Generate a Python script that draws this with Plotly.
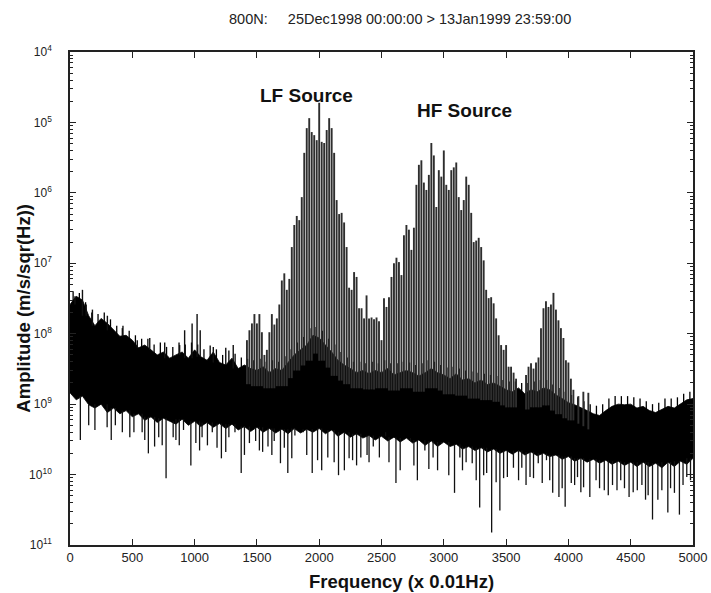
import math
import plotly.graph_objects as go

# ---------------- data ----------------
band_freq = [0, 50, 100, 150, 200, 250, 300, 350, 400, 450, 500, 550, 600, 650, 700, 750, 800, 850, 900, 950,
             1000, 1050, 1100, 1150, 1200, 1250, 1300, 1350, 1400, 1450, 1500, 1550, 1600, 1650, 1700, 1750,
             1800, 1850, 1900, 1950, 2000, 2050, 2100, 2150, 2200, 2250, 2300, 2350, 2400, 2450, 2500, 2550,
             2600, 2650, 2700, 2750, 2800, 2850, 2900, 2950, 3000, 3050, 3100, 3150, 3200, 3250, 3300, 3350,
             3400, 3450, 3500, 3550, 3600, 3650, 3700, 3750, 3800, 3850, 3900, 3950, 4000, 4050, 4100, 4150,
             4200, 4250, 4300, 4350, 4400, 4450, 4500, 4550, 4600, 4650, 4700, 4750, 4800, 4850, 4900, 4950, 5000]

band_top = [2.6e-8, 3.4e-8, 3.0e-8, 1.8e-8, 1.3e-8, 1.65e-8, 1.4e-8, 1.12e-8, 9.2e-9, 9.5e-9, 8.1e-9, 6.3e-9,
            6.9e-9, 5.9e-9, 5.0e-9, 5.5e-9, 4.5e-9, 5.0e-9, 5.5e-9, 4.5e-9, 5.9e-9, 4.7e-9, 4.2e-9, 5.5e-9,
            3.9e-9, 3.6e-9, 4.5e-9, 3.2e-9, 3.6e-9, 3.2e-9, 3.0e-9, 3.4e-9, 2.8e-9, 3.2e-9, 3.0e-9, 3.9e-9,
            5.0e-9, 5.9e-9, 6.9e-9, 9.5e-9, 8.7e-9, 6.9e-9, 5.5e-9, 4.2e-9, 3.6e-9, 3.2e-9, 2.8e-9, 3.0e-9,
            2.7e-9, 3.0e-9, 2.8e-9, 3.2e-9, 2.6e-9, 2.8e-9, 3.0e-9, 2.8e-9, 2.5e-9, 2.8e-9, 3.2e-9, 2.8e-9,
            2.6e-9, 2.3e-9, 2.7e-9, 2.2e-9, 2.3e-9, 2.0e-9, 2.2e-9, 1.9e-9, 2.0e-9, 1.8e-9, 1.6e-9, 1.5e-9,
            1.7e-9, 1.4e-9, 1.6e-9, 1.5e-9, 1.7e-9, 1.6e-9, 1.35e-9, 1.2e-9, 1.05e-9, 9.8e-10, 8.8e-10, 8.1e-10,
            7.3e-10, 6.9e-10, 8.1e-10, 9.3e-10, 1.0e-9, 9.8e-10, 1.0e-9, 8.8e-10, 9.3e-10, 8.1e-10, 7.6e-10,
            8.4e-10, 9.3e-10, 8.8e-10, 1.0e-9, 1.15e-9, 1.2e-9]

band_bottom = [1.45e-9, 1.15e-9, 1.3e-9, 9.8e-10, 8.8e-10, 1.0e-9, 7.6e-10, 8.8e-10, 7.3e-10, 8.1e-10, 6.6e-10,
               7.3e-10, 5.9e-10, 6.6e-10, 5.5e-10, 6.3e-10, 5.7e-10, 5.2e-10, 6.1e-10, 5.0e-10, 5.7e-10, 4.8e-10,
               5.5e-10, 4.7e-10, 5.3e-10, 4.5e-10, 5.2e-10, 4.3e-10, 4.8e-10, 4.1e-10, 4.7e-10, 4.0e-10, 4.5e-10,
               3.9e-10, 4.4e-10, 3.8e-10, 4.5e-10, 3.9e-10, 4.4e-10, 4.0e-10, 4.5e-10, 3.8e-10, 4.3e-10, 3.5e-10,
               4.0e-10, 3.4e-10, 3.8e-10, 3.3e-10, 3.6e-10, 3.1e-10, 3.5e-10, 3.0e-10, 3.4e-10, 2.9e-10, 3.3e-10,
               2.8e-10, 3.1e-10, 2.6e-10, 3.0e-10, 2.5e-10, 2.9e-10, 2.5e-10, 2.7e-10, 2.3e-10, 2.5e-10, 2.2e-10,
               2.4e-10, 2.1e-10, 2.3e-10, 2.0e-10, 2.2e-10, 1.95e-10, 2.2e-10, 1.9e-10, 2.1e-10, 1.85e-10, 2.0e-10,
               1.8e-10, 1.9e-10, 1.65e-10, 1.8e-10, 1.55e-10, 1.7e-10, 1.5e-10, 1.65e-10, 1.45e-10, 1.6e-10,
               1.4e-10, 1.55e-10, 1.35e-10, 1.5e-10, 1.3e-10, 1.5e-10, 1.3e-10, 1.45e-10, 1.25e-10, 1.5e-10,
               1.3e-10, 1.55e-10, 1.4e-10, 1.7e-10]

fuzz_freq = [25, 75, 125, 175, 225, 275, 325, 375, 425, 475, 525, 575, 625, 675, 725, 775, 825, 875, 925, 975,
             1025, 1075, 1125, 1175, 1225, 1275, 1325, 1375, 1425, 1475, 1525, 1575, 1625, 1675, 1725, 1775,
             1825, 1875, 1925, 1975, 2025, 2075, 2125, 2175, 2225, 2275, 2325, 2375, 2425, 2475, 2525, 2575,
             2625, 2675, 2725, 2775, 2825, 2875, 2925, 2975, 3025, 3075, 3125, 3175, 3225, 3275, 3325, 3375,
             3425, 3475, 3525, 3575, 3625, 3675, 3725, 3775, 3825, 3875, 3925, 3975, 4025, 4075, 4125, 4175,
             4225, 4275, 4325, 4375, 4425, 4475, 4525, 4575, 4625, 4675, 4725, 4775, 4825, 4875, 4925, 4975]
fuzz_peak = [4.0e-8, 3.8e-8, 2.8e-8, 2.0e-8, 1.9e-8, 2.0e-8, 1.6e-8, 1.3e-8, 1.3e-8, 1.1e-8, 9.5e-9, 8.5e-9,
             8.5e-9, 7.0e-9, 7.5e-9, 6.5e-9, 6.5e-9, 7.5e-9, 7.0e-9, 7.5e-9, 7.0e-9, 6.0e-9, 6.8e-9, 6.0e-9,
             5.0e-9, 5.8e-9, 5.2e-9, 4.6e-9, 4.4e-9, 4.2e-9, 4.4e-9, 4.0e-9, 4.2e-9, 4.0e-9, 4.8e-9, 6.0e-9,
             7.5e-9, 9.0e-9, 1.2e-8, 1.25e-8, 1.1e-8, 8.5e-9, 7.0e-9, 5.5e-9, 4.6e-9, 4.0e-9, 4.0e-9, 3.8e-9,
             4.0e-9, 3.8e-9, 4.2e-9, 3.8e-9, 3.8e-9, 4.0e-9, 3.9e-9, 3.6e-9, 3.8e-9, 4.2e-9, 4.0e-9, 3.6e-9,
             3.3e-9, 3.4e-9, 3.2e-9, 3.0e-9, 2.9e-9, 2.8e-9, 2.7e-9, 2.6e-9, 2.5e-9, 2.2e-9, 2.1e-9, 2.1e-9,
             2.0e-9, 2.0e-9, 2.1e-9, 2.2e-9, 2.2e-9, 1.9e-9, 1.7e-9, 1.5e-9, 1.35e-9, 1.25e-9, 1.1e-9, 1.0e-9,
             9.5e-10, 1.0e-9, 1.2e-9, 1.3e-9, 1.3e-9, 1.3e-9, 1.25e-9, 1.2e-9, 1.1e-9, 1.0e-9, 1.05e-9, 1.2e-9,
             1.2e-9, 1.25e-9, 1.4e-9, 1.5e-9]

harm_freq = [1420, 1440, 1460, 1480, 1500, 1520, 1540, 1560, 1580, 1600, 1620, 1640, 1660, 1680, 1700, 1720,
             1740, 1760, 1780, 1800, 1820, 1840, 1860, 1880, 1900, 1920, 1940, 1960, 1980, 2000, 2020, 2040,
             2060, 2080, 2100, 2120, 2140, 2160, 2180, 2200, 2220, 2240, 2260, 2280, 2300, 2320, 2340, 2360,
             2380, 2400, 2420, 2440, 2460, 2480, 2500, 2520, 2540, 2560, 2580, 2600, 2620, 2640, 2660, 2680,
             2700, 2720, 2740, 2760, 2780, 2800, 2820, 2840, 2860, 2880, 2900, 2920, 2940, 2960, 2980, 3000,
             3020, 3040, 3060, 3080, 3100, 3120, 3140, 3160, 3180, 3200, 3220, 3240, 3260, 3280, 3300, 3320,
             3340, 3360, 3380, 3400, 3420, 3440, 3460, 3480, 3500, 3520, 3540, 3560, 3580,
             3660, 3680, 3700, 3720, 3740, 3760, 3780, 3800, 3820, 3840, 3860, 3880, 3900, 3920, 3940, 3960,
             3980, 4000, 4020, 4040, 4080, 4120, 4160]

harm_peak = [8.1e-9, 1.12e-8, 1.4e-8, 1.9e-8, 1.4e-8, 1.9e-8, 1.05e-8, 5.0e-9, 5.9e-9, 1.05e-8, 1.9e-8, 1.35e-8,
             1.65e-8, 2.6e-8, 5.7e-8, 7.2e-8, 4.2e-8, 6.0e-8, 1.7e-7, 3.5e-7, 4.7e-7, 4.1e-7, 8.7e-7, 3.7e-6,
             8.3e-6, 1.15e-5, 7.3e-6, 6.6e-6, 5.6e-6, 1.9e-5, 5.3e-6, 5.1e-6, 7.8e-6, 1.15e-5, 8.3e-6, 3.7e-6,
             7.9e-7, 5.0e-7, 5.2e-7, 3.8e-7, 1.7e-7, 4.5e-8, 4.2e-8, 7.5e-8, 6.4e-8, 2.3e-8, 2.3e-8, 1.65e-8,
             3.5e-8, 1.65e-8, 1.7e-8, 1.6e-8, 1.7e-8, 1.5e-8, 8.1e-9, 3.2e-8, 2.4e-8, 3.3e-8, 6.4e-8, 1.0e-7,
             1.2e-7, 1.04e-7, 6.8e-8, 2.5e-7, 3.5e-7, 3.0e-7, 1.55e-7, 3.2e-7, 1.3e-6, 2.5e-6, 2.9e-6, 1.4e-6,
             1.1e-6, 1.8e-6, 5.1e-6, 3.4e-6, 6.3e-7, 2.1e-6, 1.7e-6, 4.0e-6, 1.3e-6, 1.1e-6, 2.1e-6, 2.3e-6,
             2.7e-6, 8.7e-7, 5.7e-7, 7.9e-7, 1.7e-6, 1.3e-6, 5.2e-7, 2.0e-7, 2.1e-7, 2.3e-7, 1.7e-7, 1.1e-7,
             4.2e-8, 3.2e-8, 3.3e-8, 2.7e-8, 1.65e-8, 9.5e-9, 6.9e-9, 5.9e-9, 6.9e-9, 3.4e-9, 3.4e-9, 2.8e-9,
             2.3e-9,
             2.6e-9, 3.4e-9, 3.8e-9, 3.2e-9, 3.9e-9, 4.6e-9, 1.2e-8, 2.3e-8, 2.9e-8, 2.4e-8, 2.6e-8, 3.8e-8,
             2.2e-8, 1.55e-8, 1.2e-8, 8.7e-9, 4.2e-9, 3.9e-9, 2.3e-9, 1.6e-9, 1.3e-9, 1.5e-9, 1.45e-9]

noise_up_freq = [40, 100, 130, 180, 300, 420, 540, 640, 760, 880, 920, 980, 1020, 1045, 1150, 1250, 1310]
noise_up_peak = [3.4e-8, 4.2e-8, 2.6e-8, 2.2e-8, 1.8e-8, 1.2e-8, 8.1e-9, 8.7e-9, 7.5e-9, 6.9e-9, 1.12e-8,
                 1.4e-8, 1.9e-8, 1.12e-8, 6.5e-9, 6.3e-9, 6.9e-9]

dip_freq = [83, 298, 331, 364, 480, 513, 579, 629, 679, 712, 771, 828, 877, 911, 970, 1010, 1060, 1103, 1142,
            1215, 1275, 1324, 1374, 1440, 1490, 1546, 1589, 1639, 1689, 1748, 1805, 1871, 1944, 1987, 2020,
            2069, 2155, 2202, 2268, 2334, 2384, 2434, 2483, 2533, 2616, 2682, 2732, 2788, 2848, 2914, 2980,
            3086, 3129, 3179, 3228, 3288, 3344, 3384, 3450, 3510, 3559, 3626, 3692, 3758, 3824, 3874, 3924,
            3974, 4023, 4073, 4122, 4172, 4222, 4288, 4354, 4420, 4487, 4553, 4619, 4675, 4718, 4798, 4851,
            4891, 4950]
dip_low = [3.1e-10, 4.7e-10, 3.1e-10, 5.0e-10, 3.4e-10, 4.0e-10, 4.0e-10, 2.0e-10, 2.5e-10, 3.4e-10, 8.9e-11,
           3.4e-10, 2.6e-10, 4.3e-10, 1.35e-10, 2.8e-10, 3.4e-10, 2.6e-10, 4.0e-10, 1.7e-10, 3.4e-10, 4.0e-10,
           1.05e-10, 2.8e-10, 3.0e-10, 2.1e-10, 2.5e-10, 3.0e-10, 1.45e-10, 1.05e-10, 3.6e-10, 4.0e-10, 1.05e-10,
           1.6e-10, 1.15e-10, 1.75e-10, 9.8e-11, 1.15e-10, 1.6e-10, 1.75e-10, 1.9e-10, 2.5e-10, 1.75e-10, 4.0e-10,
           7.6e-11, 3.3e-10, 3.0e-10, 8.3e-11, 2.2e-10, 1.75e-10, 2.8e-10, 5.5e-11, 1.75e-10, 1.5e-10, 1.45e-10,
           3.4e-11, 1.05e-10, 1.5e-11, 3.1e-11, 9.2e-11, 1.25e-10, 1.25e-10, 9.2e-11, 1.45e-10, 1.6e-10, 5.5e-11,
           4.8e-11, 3.5e-11, 7.6e-11, 9.2e-11, 6.6e-11, 4.8e-11, 8.3e-11, 6.0e-11, 7.1e-11, 8.3e-11, 4.8e-11,
           6.0e-11, 4.4e-11, 2.3e-11, 4.4e-11, 2.9e-11, 5.5e-11, 2.7e-11, 9.2e-11]

dip2_freq = [150, 200, 420, 600, 740, 850, 1040, 1180, 1250, 1400, 1520, 1620, 1720, 1780, 1900, 2120, 2240,
             2300, 2400, 2560, 2650, 2760, 2880, 2950, 3040, 3150, 3260, 3320, 3420, 3480, 3600, 3660, 3720,
             3790, 3850, 3950, 4050, 4100, 4250, 4320, 4390, 4450, 4520, 4590, 4640, 4750, 4820, 4920, 4980]
dip2_low = [5.0e-10, 4.3e-10, 4.0e-10, 3.1e-10, 2.6e-10, 3.1e-10, 2.2e-10, 2.4e-10, 2.1e-10, 1.9e-10, 2.2e-10,
            1.9e-10, 2.4e-10, 1.7e-10, 1.9e-10, 1.5e-10, 1.7e-10, 1.35e-10, 1.5e-10, 1.5e-10, 1.15e-10, 1.35e-10,
            1.2e-10, 1.15e-10, 9.8e-11, 1.15e-10, 8.3e-11, 9.8e-11, 7.8e-11, 8.9e-11, 8.3e-11, 7.1e-11, 8.9e-11,
            7.6e-11, 8.3e-11, 6.4e-11, 7.1e-11, 5.6e-11, 6.4e-11, 5.1e-11, 6.0e-11, 6.4e-11, 5.6e-11, 7.1e-11,
            5.1e-11, 6.0e-11, 6.4e-11, 7.1e-11, 8.3e-11]

y_tick_vals = [1e-4, 1e-5, 1e-6, 1e-7, 1e-8, 1e-9, 1e-10, 1e-11]
y_tick_text = ["10<sup>4</sup>", "10<sup>5</sup>", "10<sup>6</sup>", "10<sup>7</sup>",
               "10<sup>8</sup>", "10<sup>9</sup>", "10<sup>10</sup>", "10<sup>11</sup>"]
x_tick_vals = [0, 500, 1000, 1500, 2000, 2500, 3000, 3500, 4000, 4500, 5000]

title_text = "800N:&nbsp;&nbsp;&nbsp;&nbsp; 25Dec1998 00:00:00 > 13Jan1999 23:59:00"
x_title = "Frequency (x 0.01Hz)"
y_title = "Amplitude (m/s/sqr(Hz))"
labels = ["LF Source", "HF Source"]
label_freq = [1900, 3165]
label_amp = [2.4e-5, 1.5e-5]


def slot(f):
    i = int(f // 50)
    return min(i, len(band_freq) - 2)


# ---------------- traces ----------------
fig = go.Figure()

# dense noise band
fig.add_trace(go.Scatter(
    x=band_freq + band_freq[::-1], y=band_top + band_bottom[::-1],
    fill="toself", fillcolor="#000000", mode="lines", line=dict(width=0.8, color="#000000"),
    hoverinfo="skip", showlegend=False))

# fuzz on the top edge of the band
fx, fy = [], []
for f, v in zip(fuzz_freq, fuzz_peak):
    i = slot(f)
    fx += [f, f, None]
    fy += [min(band_top[i], band_top[i + 1]) * 0.8, v, None]
fig.add_trace(go.Scatter(x=fx, y=fy, mode="lines", line=dict(color="#000000", width=1.3),
                         hoverinfo="skip", showlegend=False))

# downward dips
dx, dy = [], []
for f, v in list(zip(dip_freq, dip_low)) + list(zip(dip2_freq, dip2_low)):
    i = slot(f)
    dx += [f, f, None]
    dy += [max(band_bottom[i], band_bottom[i + 1]), v, None]
fig.add_trace(go.Scatter(x=dx, y=dy, mode="lines", line=dict(color="#111111", width=1.3),
                         hoverinfo="skip", showlegend=False))

# small upward noise spikes
ux, uy = [], []
for f, v in zip(noise_up_freq, noise_up_peak):
    i = slot(f)
    ux += [f, f, None]
    uy += [min(band_top[i], band_top[i + 1]), v, None]
fig.add_trace(go.Scatter(x=ux, y=uy, mode="lines", line=dict(color="#111111", width=1.4),
                         hoverinfo="skip", showlegend=False))

# harmonic lines
hx, hy = [], []
for f, v in zip(harm_freq, harm_peak):
    i = slot(f)
    hx += [f, f, None]
    hy += [min(band_top[i], band_top[i + 1]) * 0.6, v, None]
fig.add_trace(go.Scatter(x=hx, y=hy, mode="lines", line=dict(color="#2e2e2e", width=1.9),
                         hoverinfo="skip", showlegend=False))

font = "Liberation Sans, Arial, Helvetica, sans-serif"

# minor log ticks
minor_vals = []
for e in range(-11, -4):
    for k in range(2, 10):
        minor_vals.append(k * 10.0 ** e)

fig.update_layout(
    width=711, height=593,
    margin=dict(l=70, r=18, t=52, b=48),
    paper_bgcolor="white", plot_bgcolor="white",
    font=dict(family=font, color="#222222"),
    xaxis=dict(range=[0, 5000], tickvals=x_tick_vals, ticks="inside", ticklen=6, tickwidth=1.2,
               tickcolor="#222", showline=True, linecolor="#222", linewidth=1.6, mirror="ticks",
               showgrid=False, zeroline=False, automargin=False,
               tickfont=dict(size=13, family=font, color="#222")),
    yaxis=dict(type="log", range=[-11, -4], tickvals=y_tick_vals, ticktext=y_tick_text,
               ticks="inside", ticklen=6, tickwidth=1.2, tickcolor="#222", showline=True,
               linecolor="#222", linewidth=1.6, mirror="ticks", showgrid=False, zeroline=False,
               ticklabelstandoff=14, automargin=False,
               tickfont=dict(size=12, family=font, color="#222"),
               minor=dict(tickvals=minor_vals, ticks="inside", ticklen=3, tickwidth=1, tickcolor="#222",
                          showgrid=False)),
)

fig.add_annotation(text=title_text, x=0.53, y=1.067, xref="paper", yref="paper", showarrow=False,
                   xanchor="center", yanchor="middle", font=dict(size=14.5, family=font, color="#222"))
fig.add_annotation(text="<b>" + x_title + "</b>", x=0.532, y=-0.075, xref="paper", yref="paper",
                   showarrow=False, xanchor="center", yanchor="middle",
                   font=dict(size=18.5, family=font, color="#111"))
fig.add_annotation(text="<b>" + y_title + "</b>", x=-0.075, y=0.48, xref="paper", yref="paper",
                   showarrow=False, xanchor="center", yanchor="middle", textangle=-90,
                   font=dict(size=18.5, family=font, color="#111"))
for t, f, a in zip(labels, label_freq, label_amp):
    fig.add_annotation(text="<b>" + t + "</b>", x=f, y=math.log10(a), xref="x", yref="y", showarrow=False,
                       xanchor="center", yanchor="middle", font=dict(size=19, family=font, color="#111"))

fig.write_html("out.html", config={"displayModeBar": False},
               post_script="document.body.style.margin='0';")
